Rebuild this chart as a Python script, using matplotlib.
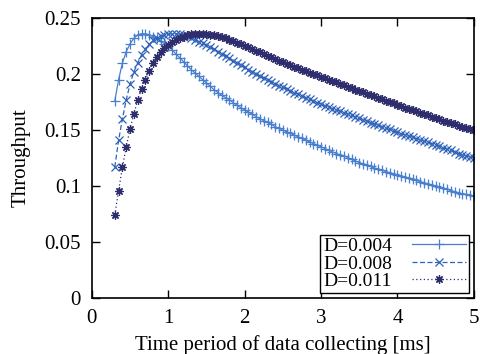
import matplotlib
matplotlib.use("Agg")
import matplotlib.pyplot as plt

x_ms = [0.30, 0.35, 0.40, 0.45, 0.50, 0.55, 0.60, 0.65, 0.70, 0.75,
        0.80, 0.85, 0.90, 0.95, 1.00, 1.05, 1.10, 1.15, 1.20, 1.25,
        1.30, 1.35, 1.40, 1.45, 1.50, 1.55, 1.60, 1.65, 1.70, 1.75,
        1.80, 1.85, 1.90, 1.95, 2.00, 2.05, 2.10, 2.15, 2.20, 2.25,
        2.30, 2.35, 2.40, 2.45, 2.50, 2.55, 2.60, 2.65, 2.70, 2.75,
        2.80, 2.85, 2.90, 2.95, 3.00, 3.05, 3.10, 3.15, 3.20, 3.25,
        3.30, 3.35, 3.40, 3.45, 3.50, 3.55, 3.60, 3.65, 3.70, 3.75,
        3.80, 3.85, 3.90, 3.95, 4.00, 4.05, 4.10, 4.15, 4.20, 4.25,
        4.30, 4.35, 4.40, 4.45, 4.50, 4.55, 4.60, 4.65, 4.70, 4.75,
        4.80, 4.85, 4.90, 4.95, 5.00]

thr_d004 = [0.176, 0.195, 0.210, 0.220, 0.227, 0.232, 0.235, 0.236, 0.236, 0.235,
            0.2335, 0.232, 0.2295, 0.227, 0.225, 0.2215, 0.218, 0.2145, 0.211, 0.2075,
            0.204, 0.201, 0.198, 0.195, 0.192, 0.189, 0.186, 0.1835, 0.181, 0.179,
            0.177, 0.1745, 0.172, 0.170, 0.168, 0.166, 0.164, 0.162, 0.160, 0.1585,
            0.157, 0.155, 0.153, 0.1515, 0.150, 0.1485, 0.147, 0.1455, 0.144, 0.1425,
            0.141, 0.1395, 0.138, 0.1365, 0.135, 0.1335, 0.132, 0.1305, 0.129, 0.128,
            0.127, 0.1255, 0.124, 0.1225, 0.121, 0.120, 0.119, 0.1175, 0.116, 0.115,
            0.114, 0.113, 0.112, 0.111, 0.110, 0.109, 0.108, 0.107, 0.106, 0.105,
            0.104, 0.103, 0.102, 0.101, 0.100, 0.099, 0.098, 0.097, 0.096, 0.095,
            0.094, 0.093, 0.0925, 0.0918, 0.091]

thr_d008 = [0.117, 0.141, 0.160, 0.177, 0.191, 0.202, 0.210, 0.217, 0.222, 0.2265,
            0.230, 0.2325, 0.234, 0.235, 0.2355, 0.236, 0.236, 0.2357, 0.235, 0.2337,
            0.232, 0.2305, 0.229, 0.2273, 0.2255, 0.2238, 0.222, 0.220, 0.218, 0.216,
            0.214, 0.212, 0.210, 0.208, 0.206, 0.204, 0.202, 0.200, 0.198, 0.1965,
            0.195, 0.1932, 0.1915, 0.1897, 0.188, 0.1865, 0.185, 0.1835, 0.182, 0.1805,
            0.179, 0.1775, 0.176, 0.1745, 0.173, 0.1717, 0.1705, 0.1692, 0.168, 0.1667,
            0.1655, 0.1642, 0.163, 0.1617, 0.1605, 0.1592, 0.158, 0.1567, 0.1555, 0.1542,
            0.153, 0.1517, 0.1505, 0.1492, 0.148, 0.1468, 0.1457, 0.1446, 0.1435, 0.1424,
            0.1413, 0.1401, 0.139, 0.138, 0.137, 0.1355, 0.134, 0.133, 0.132, 0.1305,
            0.129, 0.128, 0.127, 0.126, 0.125]

thr_d011 = [0.074, 0.096, 0.1167, 0.135, 0.151, 0.164, 0.177, 0.1866, 0.195, 0.203,
            0.210, 0.215, 0.2195, 0.223, 0.226, 0.2285, 0.2305, 0.232, 0.2335, 0.2345,
            0.2355, 0.236, 0.236, 0.236, 0.2355, 0.235, 0.2345, 0.2338, 0.233, 0.2318,
            0.2305, 0.2293, 0.228, 0.2265, 0.225, 0.2238, 0.2225, 0.221, 0.2195, 0.218,
            0.2165, 0.215, 0.2135, 0.212, 0.2105, 0.2092, 0.208, 0.2065, 0.205, 0.2038,
            0.2025, 0.2012, 0.200, 0.1988, 0.1975, 0.1962, 0.195, 0.1938, 0.1925, 0.1912,
            0.190, 0.1888, 0.1875, 0.1862, 0.185, 0.1838, 0.1825, 0.1812, 0.180, 0.1788,
            0.1775, 0.1762, 0.175, 0.1738, 0.1725, 0.1712, 0.170, 0.169, 0.168, 0.1668,
            0.1655, 0.1642, 0.163, 0.162, 0.161, 0.1598, 0.1585, 0.1572, 0.156, 0.155,
            0.154, 0.153, 0.152, 0.151, 0.150]

labels = ["D=0.004", "D=0.008", "D=0.011"]
x_ticks = [0, 1, 2, 3, 4, 5]
y_ticks = [0, 0.05, 0.1, 0.15, 0.2, 0.25]
y_tick_labels = ["0", "0.05", "0.1", "0.15", "0.2", "0.25"]

plt.rcParams['font.family'] = ['Liberation Serif', 'DejaVu Serif']
plt.rcParams['font.size'] = 15

fig = plt.figure(figsize=(4.81, 3.54), dpi=100)
ax = fig.add_axes([0.191, 0.158, 0.794, 0.791])

ax.plot(x_ms, thr_d004, color='#4a7fd0', linestyle='-', linewidth=0.9,
        marker='+', markersize=6.5, markeredgewidth=0.9, label=labels[0])
ax.plot(x_ms, thr_d008, color='#2f62b8', linestyle=(0, (4, 2)), linewidth=0.9,
        marker='x', markersize=5.5, markeredgewidth=0.9, label=labels[1])
ax.plot(x_ms, thr_d011, color='#2e2e6e', linestyle=(0, (1, 2)), linewidth=0.9,
        marker=(8, 2, 0), markersize=6, markeredgewidth=0.9, label=labels[2])

ax.set_xlim(0, 5)
ax.set_ylim(0, 0.25)
ax.set_xticks(x_ticks)
ax.set_yticks(y_ticks)
ax.set_yticklabels(y_tick_labels)
ax.tick_params(direction='in', length=6, width=1, top=True, right=True, pad=8)
for s in ax.spines.values():
    s.set_linewidth(1.2)

ax.set_xlabel("Time period of data collecting [ms]", labelpad=5)
ax.set_ylabel("Throughput", labelpad=10)

leg = ax.legend(loc='lower right', markerfirst=False, numpoints=1, fancybox=False,
                framealpha=1, edgecolor='black', handlelength=2.8, fontsize=14,
                borderaxespad=0.25, labelspacing=0.0, borderpad=0.15, handletextpad=1.0)
leg.get_frame().set_linewidth(1.0)

fig.savefig("out.png", dpi=100)
